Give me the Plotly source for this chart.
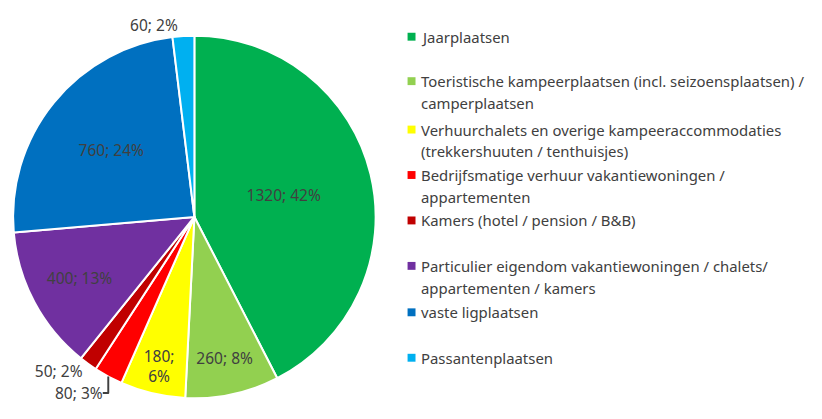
import plotly.graph_objects as go

W, H = 814, 411   # page body has an 8px margin, so the figure sits at (8, 8)
OFF = 8

categories = [
    "Jaarplaatsen",
    "Toeristische kampeerplaatsen (incl. seizoensplaatsen) /<br>camperplaatsen",
    "Verhuurchalets en overige kampeeraccommodaties<br>(trekkershuuten / tenthuisjes)",
    "Bedrijfsmatige verhuur vakantiewoningen /<br>appartementen",
    "Kamers (hotel / pension / B&B)",
    "Particulier eigendom vakantiewoningen / chalets/<br>appartementen / kamers",
    "vaste ligplaatsen",
    "Passantenplaatsen",
]
values = [1320, 260, 180, 80, 50, 400, 760, 60]
colors = ["#00B050", "#92D050", "#FFFF00", "#FF0000", "#C00000", "#7030A0", "#0070C0", "#00B0F0"]
label_pos = ["inside", "inside", "inside", "outside", "outside", "inside", "inside", "outside"]
# y (pixels, in the screenshot) of the first line of each legend entry
legend_y = [32, 77, 126, 172, 218, 264, 311, 357]

total = sum(values)
labels = []
for v in values:
    sep = ";<br>" if v == 180 else "; "
    labels.append(f"{v}{sep}{round(v / total * 100)}%")

font = "Noto Sans, sans-serif"
txt_color = "#404040"


def px(x):
    return (x - OFF) / W


def py(y):
    return 1 - (y - OFF) / H


fig = go.Figure()
fig.add_trace(go.Pie(
    labels=[c.replace("<br>", " ") for c in categories],
    values=values,
    text=labels,
    textinfo="text",
    textposition=label_pos,
    insidetextorientation="horizontal",
    sort=False,
    direction="clockwise",
    rotation=0,
    marker=dict(colors=colors, line=dict(color="white", width=2)),
    textfont=dict(family=font, size=15.5, color=txt_color),
    domain=dict(x=[px(8), px(373)], y=[py(398), py(31)]),
    showlegend=False,
))

# legend drawn by hand to keep the uneven Excel spacing
for name, col, y0 in zip(categories, colors, legend_y):
    fig.add_shape(type="rect", xref="paper", yref="paper",
                  x0=px(405), x1=px(413), y0=py(y0 + 4), y1=py(y0 - 4),
                  fillcolor=col, line=dict(width=0))
    for i, line in enumerate(name.split("<br>")):
        fig.add_annotation(x=px(417), y=py(y0 + i * 22), xref="paper", yref="paper",
                           xanchor="left", yanchor="middle", align="left", showarrow=False,
                           text=line, font=dict(family=font, size=14.9, color=txt_color))

fig.update_layout(
    width=W, height=H,
    margin=dict(l=0, r=0, t=0, b=0),
    paper_bgcolor="white",
    plot_bgcolor="white",
)

fig.write_html("out.html")
